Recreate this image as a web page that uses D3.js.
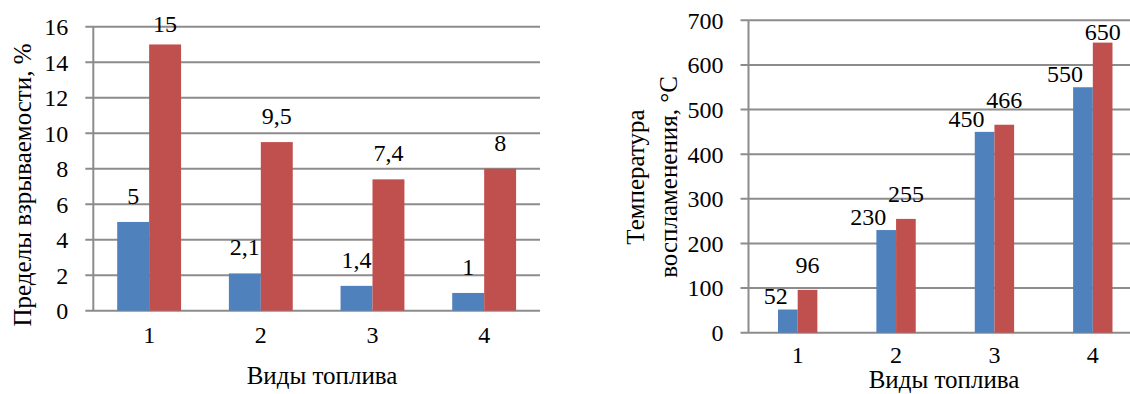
<!DOCTYPE html>
<html><head><meta charset="utf-8">
<script src="https://cdn.jsdelivr.net/npm/d3@7"></script>
<style>
body{margin:0;background:#fff;}
</style></head>
<body><svg id="c" width="1130" height="394"></svg>
<script>
const categories = ["1","2","3","4"];
const leftLower = [5, 2.1, 1.4, 1];
const leftUpper = [15, 9.5, 7.4, 8];
const leftLowerLabels = ["5","2,1","1,4","1"];
const leftUpperLabels = ["15","9,5","7,4","8"];
const leftTicks = [0,2,4,6,8,10,12,14,16];
const rightLower = [52, 230, 450, 550];
const rightUpper = [96, 255, 466, 650];
const rightTicks = [0,100,200,300,400,500,600,700];
const leftYTitle = ["Пределы взрываемости, %"];
const rightYTitle = ["Температура", "воспламенения, °C"];
const xTitle = "Виды топлива";

const BLUE = "#4F81BD", RED = "#C0504D", GRID = "#8c8c8c";
const FONT = "'Liberation Serif',Tinos,'Times New Roman',Times,'Nimbus Roman','Nimbus Roman No9 L',FreeSerif,'Noto Serif','DejaVu Serif',Georgia,serif";
const svg = d3.select("#c");

function chart(o){
  const g = svg.append("g").attr("font-family", FONT);
  const x = d3.scaleBand().domain(categories).range([o.x0, o.x1]);
  const y = d3.scaleLinear().domain([0, o.max]).range([o.y0, o.y1]);
  const bw = x.bandwidth() * o.barFrac;
  g.selectAll(".grid").data(o.ticks).join("line")
    .attr("x1", o.x0 - 8).attr("x2", o.x1)
    .attr("y1", d => y(d)).attr("y2", d => y(d))
    .attr("stroke", GRID).attr("stroke-width", 2);
  g.append("line").attr("x1", o.x0).attr("x2", o.x0).attr("y1", o.y1).attr("y2", o.y0)
    .attr("stroke", GRID).attr("stroke-width", 2);
  g.selectAll(".yt").data(o.ticks).join("text")
    .attr("x", o.x0 - 25).attr("y", d => y(d)).attr("dy", "0.35em")
    .attr("text-anchor", "end").attr("font-size", o.fs).text(d => d);
  const series = [{v:o.lower, c:BLUE, off:-1, lab:o.lowerLabels, anchor:o.lowAnchor, dy:o.lowDy},
                  {v:o.upper, c:RED, off:0, lab:o.upperLabels, anchor:"middle", dy:o.upDy}];
  series.forEach(s => {
    g.selectAll(null).data(s.v).join("rect")
      .attr("x", (d,i) => x(categories[i]) + x.bandwidth()/2 + s.off*bw)
      .attr("y", d => y(d)).attr("width", bw).attr("height", d => y(0) - y(d))
      .attr("fill", s.c);
    g.selectAll(null).data(s.v).join("text")
      .attr("x", (d,i) => x(categories[i]) + x.bandwidth()/2 + s.off*bw + bw/2)
      .attr("y", d => Math.max(y(d) - s.dy, o.y1 + o.clamp))
      .attr("text-anchor", s.anchor).attr("font-size", o.lfs)
      .text((d,i) => s.lab ? s.lab[i] : d);
  });
  g.selectAll(".xt").data(categories).join("text")
    .attr("x", d => x(d) + x.bandwidth()/2).attr("y", o.y0 + o.xLabDy)
    .attr("text-anchor", "middle").attr("font-size", o.fs).text(d => d);
  g.append("text").attr("x", o.xtX).attr("y", o.xtY).attr("text-anchor", "middle")
    .attr("font-size", o.tfs).text(xTitle);
  const yt = g.append("text").attr("transform", `translate(${o.ytX},${o.ytY}) rotate(-90)`)
    .attr("text-anchor", "middle").attr("font-size", o.tfs);
  o.ytitle.forEach((t,i) => yt.append("tspan").attr("x", 0).attr("y", i*o.ytLine).text(t));
}

chart({x0:93.3, x1:540, y0:310.7, y1:26.7, max:16, ticks:leftTicks, barFrac:0.286,
  lower:leftLower, upper:leftUpper, lowerLabels:leftLowerLabels, upperLabels:leftUpperLabels,
  lowAnchor:"middle", lowDy:18, upDy:18, clamp:5, fs:24, lfs:24, tfs:25, xLabDy:32,
  xtX:322, xtY:384, ytX:31, ytY:185, ytitle:leftYTitle, ytLine:0});

chart({x0:748.5, x1:1142, y0:332.7, y1:20.3, max:700, ticks:rightTicks, barFrac:0.2,
  lower:rightLower, upper:rightUpper, lowerLabels:null, upperLabels:null,
  lowAnchor:"end", lowDy:5, upDy:17, clamp:20, fs:24, lfs:24, tfs:25, xLabDy:30,
  xtX:944, xtY:388, ytX:644, ytY:177, ytitle:rightYTitle, ytLine:33});
</script></body></html>
